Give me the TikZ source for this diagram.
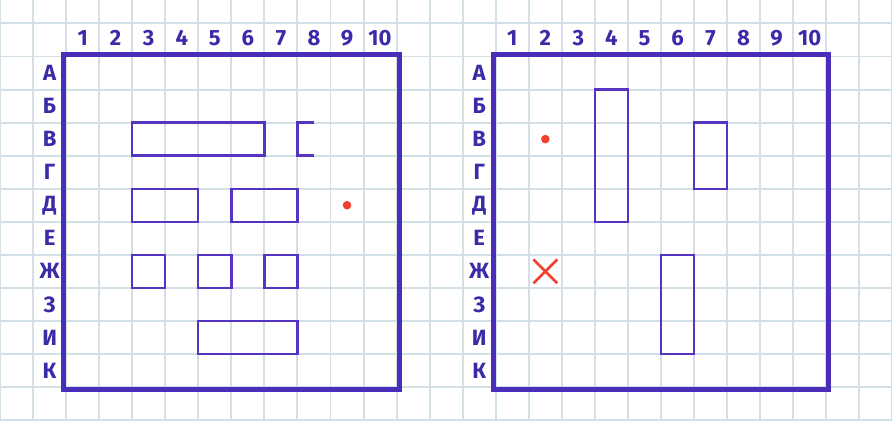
\documentclass[tikz,border=0pt]{standalone}
\usepackage{fontspec}
\setmainfont{Fira Sans}
\definecolor{gridc}{HTML}{D3DFE6}
\definecolor{ink}{HTML}{4A2DB8}
\definecolor{shapec}{HTML}{5535C0}
\definecolor{txt}{HTML}{3B2BA6}
\definecolor{markc}{HTML}{F0402F}
\begin{document}
\begin{tikzpicture}[
  gridline/.style={draw=gridc, line width=1.7pt},
  frame/.style={draw=ink, line width=0.15cm},
  ship/.style={draw=shapec, line width=2pt},
  lbl/.style={text=txt, font=\fontsize{19}{19}\selectfont\bfseries, inner sep=0pt},
  hit/.style={draw=markc, line width=2.3pt},
  dotm/.style={fill=markc}
]
\useasboundingbox (0,0) rectangle (26.99,12.71);
\begin{scope}
\clip (0,0) rectangle (26.99,12.71);
\draw[gridline] (-0.5,-0.5) grid (27.5,13.5);
\end{scope}

\foreach \ox/\nm in {2/L, 15/R}{
  \draw[frame] (\ox-0.075,0.925) rectangle (\ox+10.075,11.075);
  \foreach \c in {1,...,10}
    \node[lbl] (\nm col\c) at (\ox+\c-0.5,11.55) {\c};
  \foreach \r/\l in {1/А,2/Б,3/В,4/Г,5/Д,6/Е,7/Ж,8/З,9/И,10/К}
    \node[lbl] (\nm row\r) at (\ox-0.5,11.5-\r) {\l};
}

% left field
\draw[ship] (4,8) rectangle (8,9);
\draw[ship] (9.5,9) -- (9,9) -- (9,8) -- (9.5,8);
\draw[ship] (4,6) rectangle (6,7);
\draw[ship] (7,6) rectangle (9,7);
\draw[ship] (4,4) rectangle (5,5);
\draw[ship] (6,4) rectangle (7,5);
\draw[ship] (8,4) rectangle (9,5);
\draw[ship] (6,2) rectangle (9,3);
\fill[dotm] (10.5,6.5) circle (0.13);

% right field
\draw[ship] (18,6) rectangle (19,10);
\draw[ship] (21,7) rectangle (22,9);
\draw[ship] (20,2) rectangle (21,5);
\fill[dotm] (16.5,8.5) circle (0.13);
\draw[hit] (16.14,4.14) -- (16.86,4.86);
\draw[hit] (16.14,4.86) -- (16.86,4.14);
\end{tikzpicture}
\end{document}
